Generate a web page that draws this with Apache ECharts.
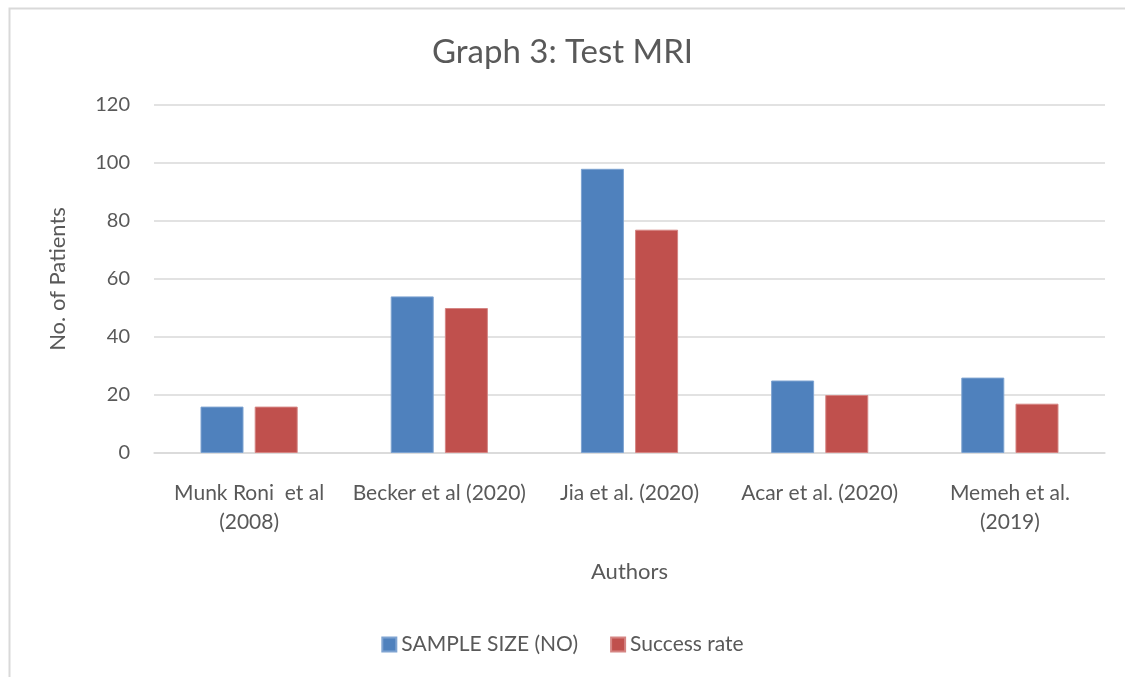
<!DOCTYPE html>
<html>
<head>
<meta charset="utf-8">
<script src="https://cdn.jsdelivr.net/npm/echarts@6/dist/echarts.min.js"></script>
<style>
  html, body { margin: 0; padding: 0; background: #fff; }
  #chart { width: 1125px; height: 677px; }
</style>
</head>
<body>
<div id="chart"></div>
<script>
// data
const authors = [
  'Munk Roni  et al\n(2008)',
  'Becker et al (2020)',
  'Jia et al. (2020)',
  'Acar et al. (2020)',
  'Memeh et al.\n(2019)'
]
const sampleSize = [16, 54, 98, 25, 26]
const successRate = [16, 50, 77, 20, 17]
const yTicks = { min: 0, max: 120, interval: 20 }

const textColor = '#595959'
const font = 'Lato'

const chart = echarts.init(document.getElementById('chart'))

chart.setOption({
  animation: false,
  backgroundColor: '#fff',
  textStyle: { fontFamily: font, color: textColor },
  graphic: [
    {
      // chart area border (right/bottom run off the canvas)
      type: 'rect',
      left: 7,
      top: 6,
      shape: { width: 1200, height: 750 },
      style: { fill: 'none', stroke: '#d9d9d9', lineWidth: 2 },
      silent: true
    }
  ],
  title: {
    text: 'Graph 3: Test MRI',
    left: 'center',
    top: 31,
    textStyle: { fontFamily: font, fontSize: 33, fontWeight: 'normal', color: textColor }
  },
  legend: {
    bottom: 17,
    left: 'center',
    itemWidth: 14,
    itemHeight: 14,
    itemGap: 32,
    icon: 'rect',
    textStyle: { fontFamily: font, fontSize: 21, color: textColor }
  },
  grid: {
    left: 154,
    right: 20,
    top: 105,
    bottom: 224,
    containLabel: false
  },
  xAxis: {
    type: 'category',
    data: authors,
    name: 'Authors',
    nameLocation: 'middle',
    nameGap: 108,
    nameTextStyle: { fontFamily: font, fontSize: 22, color: textColor },
    axisLine: { lineStyle: { color: '#d9d9d9', width: 1.5 } },
    axisTick: { show: false },
    axisLabel: {
      interval: 0,
      margin: 26,
      fontFamily: font,
      fontSize: 21,
      lineHeight: 29,
      color: textColor
    }
  },
  yAxis: {
    type: 'value',
    min: yTicks.min,
    max: yTicks.max,
    interval: yTicks.interval,
    name: 'No. of Patients',
    nameLocation: 'middle',
    nameGap: 85,
    nameTextStyle: { fontFamily: font, fontSize: 22, color: textColor },
    axisLine: { show: false },
    axisTick: { show: false },
    axisLabel: { margin: 24, fontFamily: font, fontSize: 20, color: textColor },
    splitLine: { lineStyle: { color: '#d9d9d9', width: 1.5 } }
  },
  series: [
    {
      name: 'SAMPLE SIZE (NO)',
      type: 'bar',
      data: sampleSize,
      barWidth: 43,
      barGap: '26%',
      itemStyle: { color: '#4f81bd', borderColor: '#7ea3d1', borderWidth: 1 }
    },
    {
      name: 'Success rate',
      type: 'bar',
      data: successRate,
      barWidth: 43,
      barGap: '26%',
      itemStyle: { color: '#c0504d', borderColor: '#d58583', borderWidth: 1 }
    }
  ]
})
</script>
</body>
</html>
